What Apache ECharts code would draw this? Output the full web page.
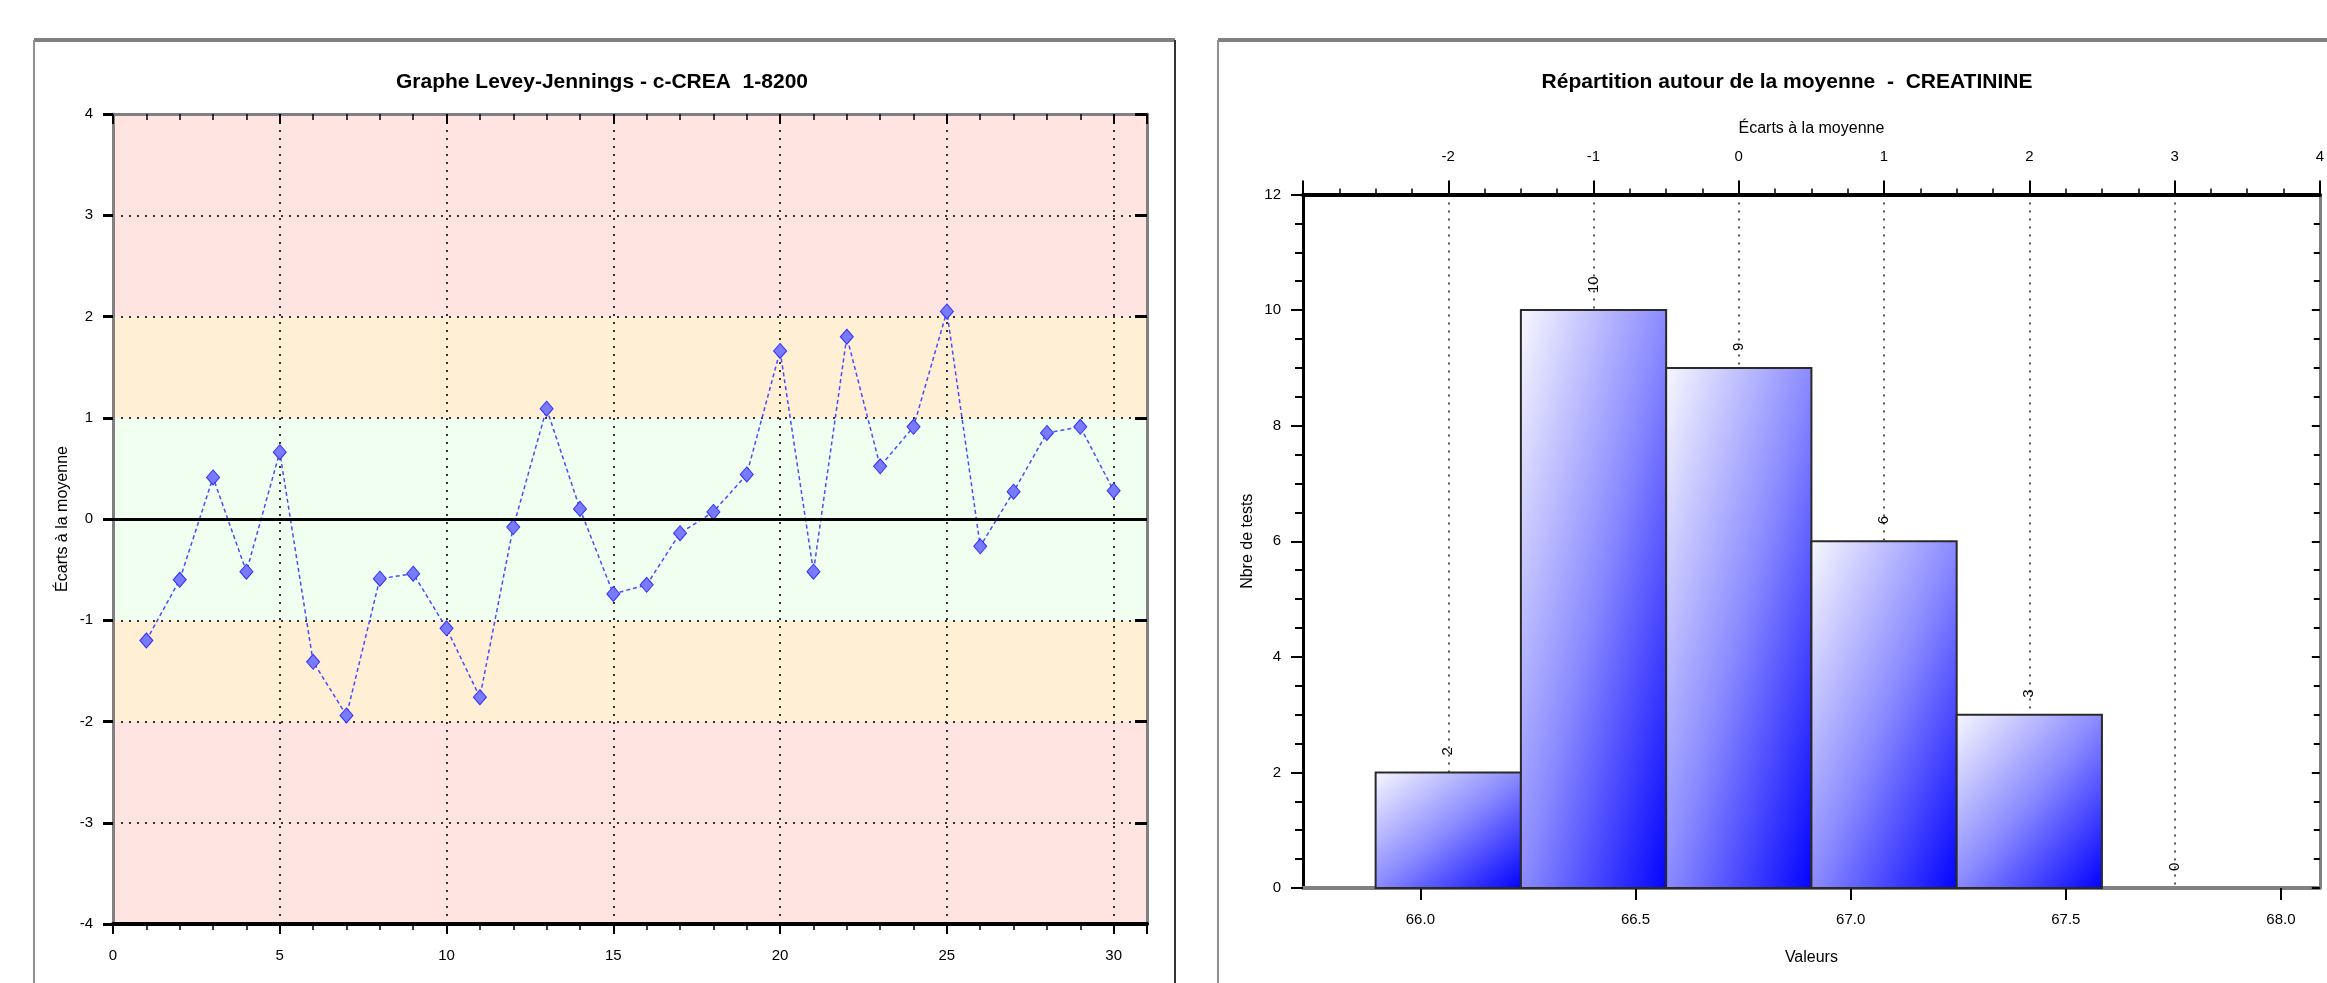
<!DOCTYPE html>
<html><head><meta charset="utf-8">
<script src="https://cdn.jsdelivr.net/npm/echarts@6/dist/echarts.min.js"></script>
<style>html,body{margin:0;padding:0;background:#fff}#c{width:2327px;height:983px}</style>
</head><body><div id="c"></div>
<script>
// ---- Data: Levey-Jennings ----
const ljRuns = [1,2,3,4,5,6,7,8,9,10,11,12,13,14,15,16,17,18,19,20,21,22,23,24,25,26,27,28,29,30];
const ljSd   = [-1.20,-0.60,0.41,-0.52,0.66,-1.41,-1.94,-0.59,-0.54,-1.08,-1.76,-0.08,1.09,0.10,-0.74,-0.65,-0.14,0.07,0.44,1.66,-0.52,1.80,0.52,0.91,2.05,-0.27,0.27,0.85,0.91,0.28];
const bandLow  = [-4,-2,-1,1,2];
const bandHigh = [-2,-1,1,2,4];
const bandColor = ['#FFE4E1','#FFEFD5','#F0FFF0','#FFEFD5','#FFE4E1'];
// ---- Data: histogram ----
const histSd    = [-2,-1,0,1,2,3];
const histCount = [2,10,9,6,3,0];
const valueTicks = [66.0,66.5,67.0,67.5,68.0];
const mean = 66.74, sd = 0.3376;

const FONT = "'Liberation Sans Narrow','Liberation Sans','DejaVu Sans Condensed',Arial,sans-serif";
const chart = echarts.init(document.getElementById('c'));

function barGradient(w, h){
  const d = w*w + h*h;
  const x2 = 2*h*h/d, y2 = 2*w*w/d;
  return new echarts.graphic.LinearGradient(0,0,x2,y2,[
    {offset:0,color:'#f8f8ff'},{offset:0.5,color:'#8a8aff'},{offset:1,color:'#0000ff'}]);
}

const lblStyle = {fontFamily:FONT, fontSize:15, color:'#000'};
const dotted = (c,w)=>({show:true, lineStyle:{type:[2,6], color:c, width:w||2}});

const option = {
  animation:false,
  backgroundColor:'#fff',
  graphic:[
    {type:'line', shape:{x1:34,y1:40,x2:1175,y2:40}, style:{stroke:'#808080',lineWidth:4}},
    {type:'line', shape:{x1:34,y1:40,x2:34,y2:983}, style:{stroke:'#909090',lineWidth:2}},
    {type:'line', shape:{x1:1175,y1:40,x2:1175,y2:983}, style:{stroke:'#333',lineWidth:2}},
    {type:'line', shape:{x1:1218,y1:40,x2:2327,y2:40}, style:{stroke:'#808080',lineWidth:4}},
    {type:'line', shape:{x1:1218,y1:40,x2:1218,y2:983}, style:{stroke:'#909090',lineWidth:2}},
    {type:'text', x:602, y:82, style:{text:'Graphe Levey-Jennings - c-CREA  1-8200', font:'bold 21px '+FONT, fill:'#000', align:'center', verticalAlign:'middle'}},
    {type:'text', x:1787, y:82, style:{text:'Répartition autour de la moyenne  -  CREATININE', font:'bold 21px '+FONT, fill:'#000', align:'center', verticalAlign:'middle'}}
  ],
  grid:[
    {left:113, top:114, width:1034, height:810},
    {left:1303, top:194.5, width:1021, height:693.5}
  ],
  xAxis:[
    {gridIndex:0, type:'value', min:0, max:31, interval:5, position:'bottom',
     axisLine:{onZero:false, lineStyle:{color:'#000', width:4}},
     axisTick:{show:true, length:10, lineStyle:{color:'#000', width:2}},
     minorTick:{show:true, splitNumber:5, length:6, lineStyle:{color:'#000', width:1.5}},
     axisLabel:Object.assign({margin:24, showMaxLabel:false}, lblStyle),
     splitLine:dotted('#333',2)},
    {gridIndex:0, type:'value', min:0, max:31, interval:5, position:'top',
     axisLine:{onZero:false, lineStyle:{color:'#808080', width:3}},
     axisTick:{show:true, inside:true, length:10, lineStyle:{color:'#000', width:2}},
     minorTick:{show:true, splitNumber:5, length:6, lineStyle:{color:'#000', width:1.5}},
     axisLabel:{show:false}, splitLine:{show:false}},
    {gridIndex:1, type:'value', min:mean-3*sd, max:mean+4*sd, position:'bottom',
     axisLine:{onZero:false, lineStyle:{color:'#808080', width:4}},
     axisTick:{show:true, customValues:valueTicks, length:12, lineStyle:{color:'#000', width:2}},
     axisLabel:Object.assign({margin:24, customValues:valueTicks, formatter:v=>v.toFixed(1)}, lblStyle),
     splitLine:{show:false},
     name:'Valeurs', nameLocation:'middle', nameGap:62, nameTextStyle:{fontFamily:FONT, fontSize:16, color:'#000'}},
    {gridIndex:1, type:'value', min:-3, max:4, interval:1, position:'top',
     axisLine:{onZero:false, lineStyle:{color:'#000', width:4}},
     axisTick:{show:true, length:14, lineStyle:{color:'#000', width:2}},
     minorTick:{show:true, splitNumber:4, length:6, lineStyle:{color:'#000', width:1.5}},
     axisLabel:Object.assign({margin:30, showMinLabel:false}, lblStyle),
     splitLine:dotted('#555',2),
     name:'Écarts à la moyenne', nameLocation:'middle', nameGap:58, nameTextStyle:{fontFamily:FONT, fontSize:16, color:'#000'}}
  ],
  yAxis:[
    {gridIndex:0, type:'value', min:-4, max:4, interval:1,
     axisLine:{show:true, onZero:false, lineStyle:{color:'#808080', width:3}},
     axisTick:{show:true, length:10, lineStyle:{color:'#000', width:3}},
     axisLabel:Object.assign({margin:20}, lblStyle),
     splitLine:dotted('#333',2),
     name:'Écarts à la moyenne', nameLocation:'middle', nameGap:42, nameTextStyle:{fontFamily:FONT, fontSize:16, color:'#000'}},
    {gridIndex:0, type:'value', min:-4, max:4, interval:1, position:'right',
     axisLine:{show:true, onZero:false, lineStyle:{color:'#808080', width:3}},
     axisTick:{show:true, inside:true, length:12, lineStyle:{color:'#000', width:3}},
     axisLabel:{show:false}, splitLine:{show:false}},
    {gridIndex:1, type:'value', min:0, max:12, interval:2, position:'left',
     axisLine:{show:true, onZero:false, lineStyle:{color:'#000', width:3}},
     axisTick:{show:true, length:12, lineStyle:{color:'#000', width:2}},
     minorTick:{show:true, splitNumber:4, length:8, lineStyle:{color:'#000', width:2}},
     axisLabel:Object.assign({margin:22}, lblStyle),
     splitLine:{show:false},
     name:'Nbre de tests', nameLocation:'middle', nameGap:47, nameTextStyle:{fontFamily:FONT, fontSize:16, color:'#000'}},
    {gridIndex:1, type:'value', min:0, max:12, interval:2, position:'right',
     axisLine:{show:true, onZero:false, lineStyle:{color:'#808080', width:3}},
     axisTick:{show:true, inside:true, length:8, lineStyle:{color:'#000', width:2}},
     minorTick:{show:true, splitNumber:4, length:6, lineStyle:{color:'#000', width:2}},
     axisLabel:{show:false}, splitLine:{show:false}}
  ],
  series:[
    {type:'custom', xAxisIndex:0, yAxisIndex:0, z:-1, silent:true,
     data: bandLow.map((lo,i)=>[lo, bandHigh[i], i]),
     renderItem:(params, api)=>{
       const cs = params.coordSys;
       const lo = api.value(0), hi = api.value(1), idx = api.value(2);
       const yTop = api.coord([0, hi])[1], yBot = api.coord([0, lo])[1];
       return {type:'rect', shape:{x:cs.x, y:yTop, width:cs.width, height:yBot-yTop}, style:{fill:bandColor[idx]}};
     }},
    {type:'line', xAxisIndex:0, yAxisIndex:0,
     data: ljRuns.map((r,i)=>[r, ljSd[i]]),
     symbol:'diamond', symbolSize:[13,15],
     itemStyle:{color:'#7a7aff', borderColor:'#3030ff', borderWidth:1},
     lineStyle:{color:'#4a4aff', width:1.5, type:[4,3]},
     markLine:{silent:true, symbol:'none', label:{show:false},
       lineStyle:{color:'#000', width:3, type:'solid'}, data:[{yAxis:0}]}},
    {type:'custom', xAxisIndex:3, yAxisIndex:2,
     data: histSd.map((s,i)=>[s, histCount[i]]),
     renderItem:(params, api)=>{
       const s = api.value(0), n = api.value(1);
       const p0 = api.coord([s-0.5, n]), p1 = api.coord([s+0.5, 0]);
       const pt = api.coord([s, n]);
       const w = p1[0]-p0[0], h = p1[1]-p0[1];
       const children = [];
       if (n > 0) children.push({type:'rect', shape:{x:p0[0], y:p0[1], width:w, height:h},
         style:{fill:barGradient(w,h), stroke:'#2a2a2a', lineWidth:2}});
       children.push({type:'text', x:pt[0], y:pt[1]-17, rotation:Math.PI/2,
         style:{text:String(n), x:0, y:0, align:'left', verticalAlign:'middle', font:'15px '+FONT, fill:'#000'}});
       return {type:'group', children};
     }}
  ]
};
chart.setOption(option);
</script></body></html>
